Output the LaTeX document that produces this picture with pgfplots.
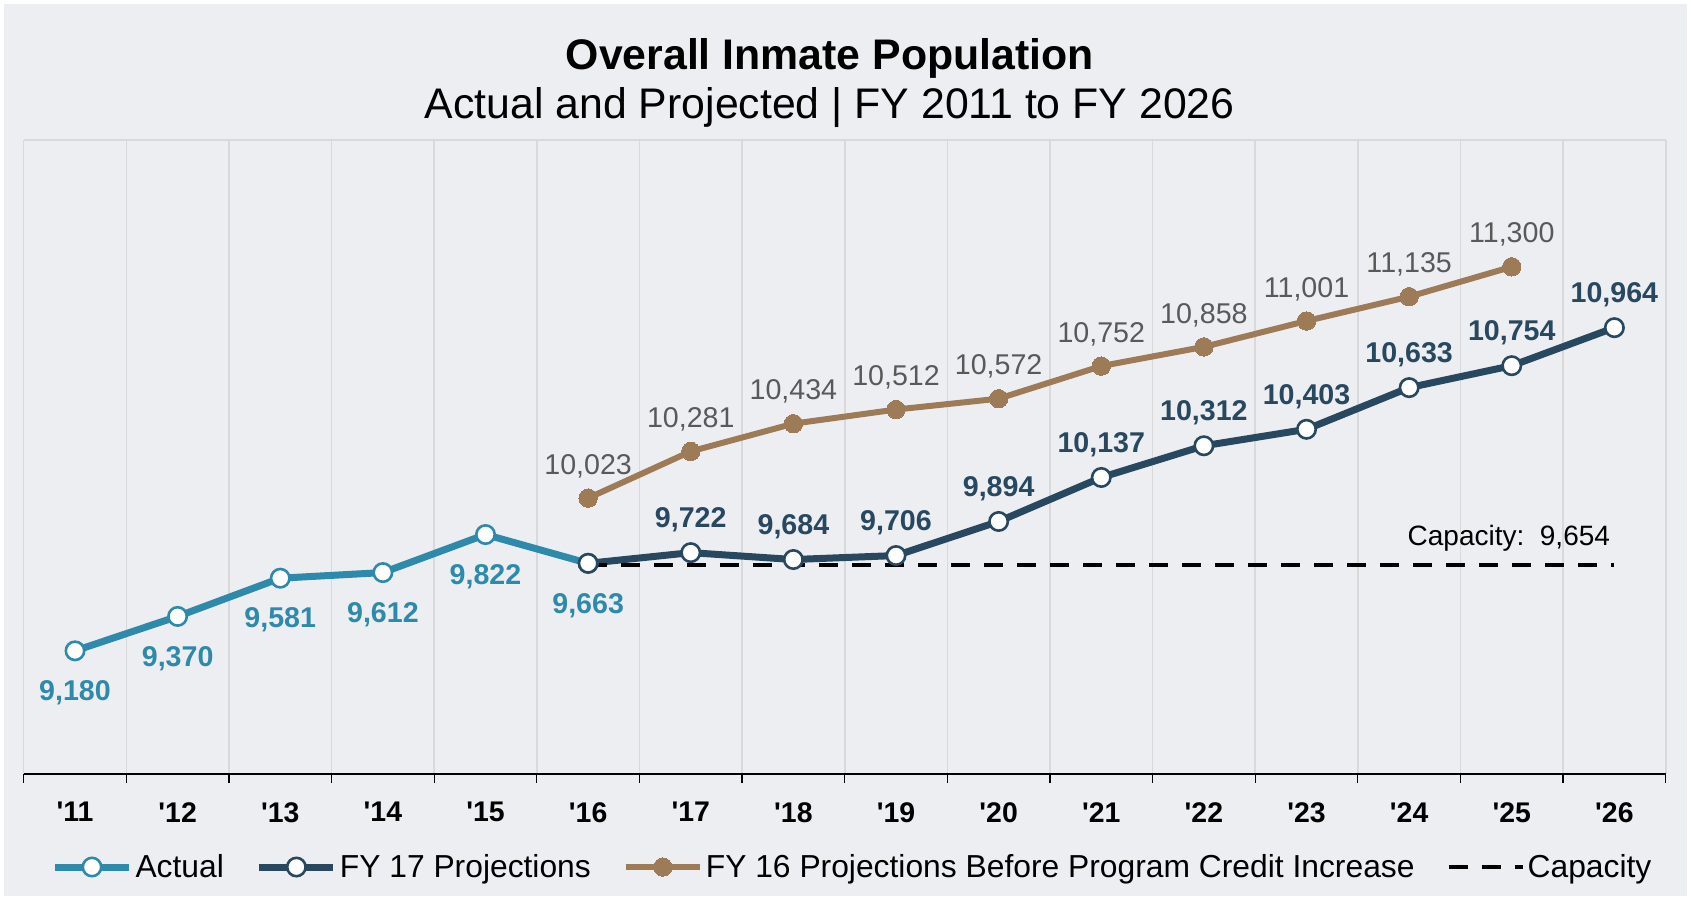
\documentclass[border=0pt]{standalone}
\usepackage{fontspec}
\setmainfont{Liberation Sans}
\usepackage{pgfplots}
\pgfplotsset{compat=1.18}

\definecolor{panel}{HTML}{EDEEF2}
\definecolor{gridc}{HTML}{D9D9D9}
\definecolor{actual}{HTML}{2E8AAB}
\definecolor{fyseventeen}{HTML}{284860}
\definecolor{fysixteen}{HTML}{9E7B57}
\definecolor{lblgray}{HTML}{595959}

\begin{document}
\begin{tikzpicture}
% panel behind the chart
\fill[white] (-11.85pt,-63pt) rectangle (833.65pt,387pt);
\fill[panel] (-9.85pt,-61pt) rectangle (831.65pt,385pt);

\begin{axis}[
    at={(0,0)}, anchor=south west,
    scale only axis, width=821pt, height=317pt,
    xmin=0, xmax=16, ymin=8500, ymax=12000,
    axis x line=bottom, axis y line=none,
    x axis line style={-, black, line width=1pt},
    ytick=\empty,
    xtick={0.5,1.5,...,15.5},
    xticklabels={\textquotesingle11,\textquotesingle12,\textquotesingle13,\textquotesingle14,
        \textquotesingle15,\textquotesingle16,\textquotesingle17,\textquotesingle18,
        \textquotesingle19,\textquotesingle20,\textquotesingle21,\textquotesingle22,
        \textquotesingle23,\textquotesingle24,\textquotesingle25,\textquotesingle26},
    major tick length=0pt,
    minor xtick={0,1,...,16},
    minor tick length=4.5pt,
    tick align=outside,
    minor tick style={black, line width=0.6pt},
    xminorgrids=true,
    minor grid style={gridc, line width=0.8pt},
    xticklabel style={font=\fontsize{14.2}{16}\selectfont\bfseries, yshift=-10.6pt},
    clip=false,
    point meta=explicit symbolic,
    nodes near coords={\pgfplotspointmeta},
    legend columns=4,
    legend cell align=left,
    legend style={at={(0.505,-0.1467)}, anchor=center, draw=none, fill=none,
        font=\fontsize{15.9}{18}\selectfont,
        nodes={inner sep=1.5pt},
        /tikz/every even column/.append style={column sep=14.5pt}},
    legend image code/.code={\draw[mark repeat=2,mark phase=2,#1]
        plot coordinates {(0pt,0pt) (18.5pt,0pt) (37pt,0pt)};},
]

% top border of the plot area
\draw[gridc, line width=1.2pt] (rel axis cs:0,1) -- (rel axis cs:1,1);

\addplot[actual, line width=3.5pt, mark=*, mark size=4.6pt,
    mark options={fill=white, draw=actual, line width=1.3pt},
    every node near coord/.append style={anchor=center, yshift=-21pt,
        font=\fontsize{14.3}{16}\selectfont\bfseries, text=actual}]
    coordinates {
    (0.5,9180) [9,180]
    (1.5,9370) [9,370]
    (2.5,9581) [9,581]
    (3.5,9612) [9,612]
    (4.5,9822) [9,822]
    (5.5,9663) [9,663]
    };
\addlegendentry{Actual}

\addplot[fyseventeen, line width=3.5pt, mark=*, mark size=4.6pt,
    mark options={fill=white, draw=fyseventeen, line width=1.3pt},
    every node near coord/.append style={anchor=center, yshift=16.5pt,
        font=\fontsize{14.3}{16}\selectfont\bfseries, text=fyseventeen}]
    coordinates {
    (5.5,9663) [{}]
    (6.5,9722) [9,722]
    (7.5,9684) [9,684]
    (8.5,9706) [9,706]
    (9.5,9894) [9,894]
    (10.5,10137) [10,137]
    (11.5,10312) [10,312]
    (12.5,10403) [10,403]
    (13.5,10633) [10,633]
    (14.5,10754) [10,754]
    (15.5,10964) [10,964]
    };
\addlegendentry{FY 17 Projections}

\addplot[fysixteen, line width=3pt, mark=*, mark size=4.6pt,
    mark options={fill=fysixteen, draw=fysixteen, line width=0pt},
    every node near coord/.append style={anchor=center, yshift=16pt,
        font=\fontsize{14.3}{16}\selectfont, text=lblgray}]
    coordinates {
    (5.5,10023) [10,023]
    (6.5,10281) [10,281]
    (7.5,10434) [10,434]
    (8.5,10512) [10,512]
    (9.5,10572) [10,572]
    (10.5,10752) [10,752]
    (11.5,10858) [10,858]
    (12.5,11001) [11,001]
    (13.5,11135) [11,135]
    (14.5,11300) [11,300]
    };
\addlegendentry{FY 16 Projections Before Program Credit Increase}

\addplot[black, line width=2pt, dash pattern=on 9.5pt off 7pt, mark=none,
    nodes near coords={}]
    coordinates {
    (5.5,9654) [{}]
    (15.5,9654) [{}]
    };
\addlegendentry{Capacity}

\node[anchor=base east, inner sep=0pt, font=\fontsize{14}{16}\selectfont]
    at (axis cs:15.5,9654) [yshift=9.5pt, xshift=-2pt] {Capacity:~~9,654};
\end{axis}

\node[font=\fontsize{21.4}{25}\selectfont\bfseries] at (403pt,358pt) {Overall Inmate Population};
\node[font=\fontsize{21.4}{25}\selectfont] at (403pt,333pt) {Actual and Projected | FY 2011 to FY 2026};
\end{tikzpicture}
\end{document}
